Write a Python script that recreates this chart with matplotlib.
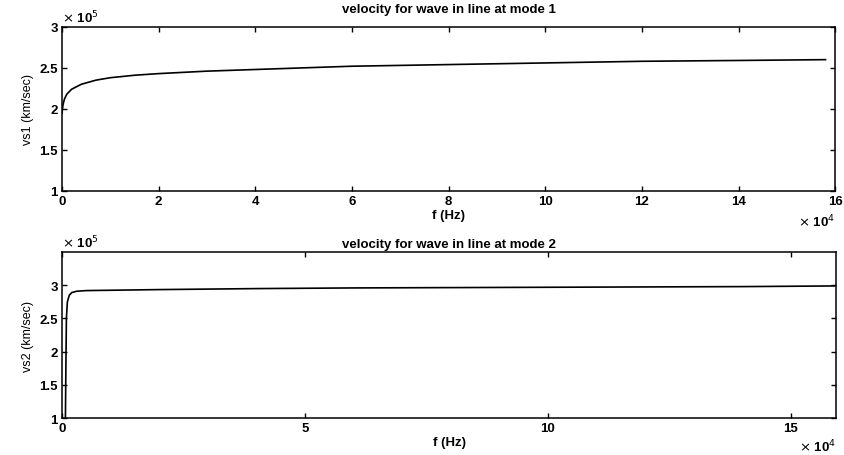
import numpy as np
import matplotlib
matplotlib.use('Agg')
import matplotlib.pyplot as plt
from matplotlib.ticker import FuncFormatter

plt.rcParams['font.family'] = ['Liberation Sans', 'DejaVu Sans']

# mode 1: frequency (Hz) and velocity (km/sec)
f1 = [0, 200, 500, 1000, 2000, 4000, 7000, 10000, 15000, 20000, 30000,
      40000, 50000, 60000, 80000, 100000, 120000, 140000, 158000]
vs1 = [1.95e5, 2.05e5, 2.12e5, 2.18e5, 2.24e5, 2.30e5, 2.35e5, 2.38e5, 2.41e5,
       2.43e5, 2.46e5, 2.48e5, 2.50e5, 2.52e5, 2.54e5, 2.56e5, 2.58e5, 2.59e5, 2.60e5]

# mode 2
f2 = [0, 700, 800, 900, 1100, 1500, 2000, 3000, 5000, 10000, 20000,
      40000, 60000, 80000, 100000, 120000, 140000, 159000]
vs2 = [0.9e5, 1.0e5, 1.8e5, 2.5e5, 2.75e5, 2.85e5, 2.89e5, 2.91e5, 2.92e5, 2.925e5,
       2.935e5, 2.95e5, 2.96e5, 2.965e5, 2.97e5, 2.975e5, 2.98e5, 2.99e5]

titles = ['velocity for wave in line at mode 1', 'velocity for wave in line at mode 2']
ylabels = ['vs1 (km/sec)', 'vs2 (km/sec)']
xticks_top = [0, 2, 4, 6, 8, 10, 12, 14, 16]
xticks_bot = [0, 5, 10, 15]
yticks = [1, 1.5, 2, 2.5, 3]

fig = plt.figure(figsize=(8.45, 4.56), dpi=100)
ax1 = fig.add_axes([0.0734, 0.579, 0.915, 0.360])
ax2 = fig.add_axes([0.0734, 0.081, 0.916, 0.364])

fmt = FuncFormatter(lambda v, p: '%g' % v)

ax1.plot(np.array(f1) / 1e4, np.array(vs1) / 1e5, color='black', lw=1.2)
ax1.set_xlim(0, 16)
ax1.set_ylim(1, 3)
ax1.set_xticks(xticks_top)

ax2.plot(np.array(f2) / 1e4, np.array(vs2) / 1e5, color='black', lw=1.2)
ax2.set_xlim(0, 15.93)
ax2.set_ylim(1, 3.5)
ax2.set_xticks(xticks_bot)

for ax, t, yl, tpad, off in zip([ax1, ax2], titles, ylabels, [11, 4], [-0.18, -0.17]):
    ax.set_yticks(yticks)
    ax.xaxis.set_major_formatter(fmt)
    ax.yaxis.set_major_formatter(fmt)
    ax.tick_params(direction='in', top=True, right=True, length=3.5, width=1,
                   labelsize=9.5, pad=3)
    for lab in ax.get_xticklabels() + ax.get_yticklabels():
        lab.set_fontweight('bold')
    for s in ax.spines.values():
        s.set_linewidth(1.1)
    ax.set_title(t, fontsize=9.5, fontweight='bold', pad=tpad)
    ax.set_xlabel('f (Hz)', fontsize=9.5, fontweight='bold', labelpad=1)
    ax.set_ylabel(yl, fontsize=9, labelpad=4)
    ax.text(0.0, 1.01, r'$\times$ 10$^5$', transform=ax.transAxes,
            fontsize=9.5, fontweight='bold', ha='left', va='bottom')
    ax.text(1.0, off, r'$\times$ 10$^4$', transform=ax.transAxes,
            fontsize=9.5, fontweight='bold', ha='right', va='center')

fig.savefig('out.png', dpi=100)
